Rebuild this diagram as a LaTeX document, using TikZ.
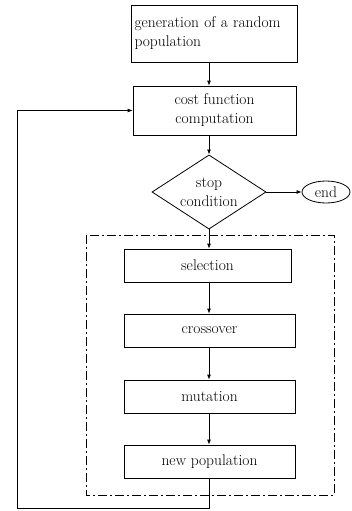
\documentclass[tikz,border=0pt]{standalone}
\usetikzlibrary{shapes.geometric,arrows.meta}
\tikzset{
	box/.style={draw, rectangle, inner sep=2pt, font=\fontsize{15.5}{19}\selectfont},
	arr/.style={-{Latex[length=5pt,width=4pt]}},
}
\begin{document}
\begin{tikzpicture}[x=1pt,y=-1pt,line width=0.8pt]
		\useasboundingbox (0,0) rectangle (352,511);
		
		\node [box, minimum width=166pt, minimum height=57pt, text width=160pt, align=left] (gen) at (214.5,33.5) {generation of a random\\population};
		\node [box, minimum width=163pt, minimum height=49pt, align=center] (cost) at (214.5,110.5) {cost function\\computation};
		\node [box, diamond, minimum width=114pt, minimum height=68pt, inner sep=-3pt, align=center] (stop) at (209,192) {stop\\condition};
		\node [box, ellipse, minimum width=48pt, minimum height=22pt, inner sep=0pt] (end) at (326,192) {end};
		
		\draw [dash pattern=on 9pt off 3pt on 2pt off 3pt] (86,235) rectangle (334,495);
		
		\node [box, minimum width=167pt, minimum height=33pt] (sel) at (207.5,265.5) {selection};
		\node [box, minimum width=171pt, minimum height=33pt] (cross) at (209.5,330.5) {crossover};
		\node [box, minimum width=171pt, minimum height=33pt] (mut) at (209.5,396.5) {mutation};
		\node [box, minimum width=171pt, minimum height=33pt] (newpop) at (209.5,461.5) {new population};
		
		\coordinate (back) at (17,508);
		
		\draw [arr] (gen.south -| stop.north) -- (cost.north -| stop.north);
		\draw [arr] (cost.south -| stop.north) -- (stop.north);
		\draw [arr] (stop.east) -- (end.west);
		\draw [arr] (stop.south) -- (sel.north -| stop.south);
		\draw [arr] (sel.south -| stop.south) -- (cross.north -| stop.south);
		\draw [arr] (cross.south -| stop.south) -- (mut.north -| stop.south);
		\draw [arr] (mut.south -| stop.south) -- (newpop.north -| stop.south);
		\draw [arr] (newpop.south) |- (back) |- (cost.west);
		
		\end{tikzpicture}
\end{document}
